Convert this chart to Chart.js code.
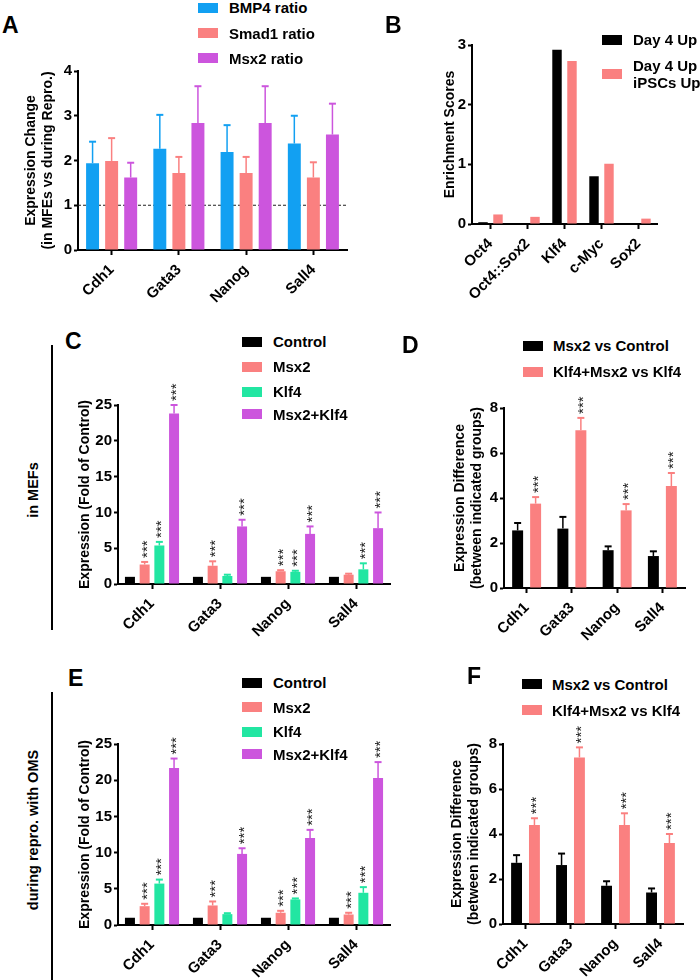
<!DOCTYPE html>
<html>
<head>
<meta charset="utf-8">
<title>Msx2 / Klf4 expression panels</title>
<script src="https://cdn.jsdelivr.net/npm/chart.js@4.4.1/dist/chart.umd.min.js"></script>
<style>
  html, body { margin: 0; padding: 0; background: #fff; }
  body { position: relative; width: 700px; height: 980px; overflow: hidden;
         font-family: "Liberation Sans", Arial, sans-serif; font-weight: bold; color: #000; }
  canvas { position: absolute; }
  .tag { position: absolute; font-size: 23px; line-height: 23px; }
  .leg { position: absolute; display: flex; align-items: center; font-size: 15px; line-height: 17px; white-space: pre; }
  .leg i { display: block; width: 20px; height: 10px; flex: none; }
  .side { position: absolute; font-size: 14.5px; white-space: nowrap; transform: translate(-50%, -50%) rotate(-90deg); }
  .rule { position: absolute; width: 2px; background: #000; }
</style>
</head>
<body>
<script>
const genes = ["Cdh1", "Gata3", "Nanog", "Sall4"];
const motifs = ["Oct4", "Oct4::Sox2", "Klf4", "c-Myc", "Sox2"];

// A - expression change (in MEFs vs during repro.)
const bmp4Ratio = [1.94, 2.26, 2.19, 2.38];
const bmp4RatioSem = [0.48, 0.76, 0.60, 0.62];
const smad1Ratio = [1.99, 1.72, 1.72, 1.62];
const smad1RatioSem = [0.51, 0.36, 0.36, 0.34];
const msx2Ratio = [1.62, 2.84, 2.84, 2.58];
const msx2RatioSem = [0.33, 0.82, 0.82, 0.69];

// B - enrichment scores
const day4Up = [0.03, 0, 2.92, 0.80, 0];
const day4iPSCsUp = [0.16, 0.12, 2.73, 1.01, 0.09];

// C - in MEFs, fold of control
const mefControl = [1, 1, 1, 1];
const mefMsx2 = [2.72, 2.55, 1.78, 1.30];
const mefMsx2Sem = [0.36, 0.62, 0.15, 0.14];
const mefKlf4 = [5.38, 1.12, 1.70, 2.05];
const mefKlf4Sem = [0.50, 0.18, 0.15, 0.84];
const mefBoth = [23.8, 8.04, 7.00, 7.80];
const mefBothSem = [1.20, 0.93, 1.04, 2.19];
const mefMsx2Stars = [1, 1, 1, 0];
const mefKlf4Stars = [1, 0, 1, 1];
const mefBothStars = [1, 1, 1, 1];

// D - in MEFs, difference between groups
const mefMsx2VsCtrl = [2.56, 2.64, 1.68, 1.42];
const mefMsx2VsCtrlSem = [0.33, 0.52, 0.17, 0.21];
const mefBothVsKlf4 = [3.75, 7.01, 3.45, 4.53];
const mefBothVsKlf4Sem = [0.29, 0.55, 0.28, 0.58];

// E - during repro. with OMS, fold of control
const repControl = [1, 1, 1, 1];
const repMsx2 = [2.60, 2.70, 1.69, 1.45];
const repMsx2Sem = [0.33, 0.55, 0.27, 0.24];
const repKlf4 = [5.72, 1.50, 3.53, 4.45];
const repKlf4Sem = [0.55, 0.13, 0.14, 0.78];
const repBoth = [21.7, 9.82, 12.0, 20.3];
const repBothSem = [1.29, 0.78, 1.14, 2.20];
const repMsx2Stars = [1, 1, 1, 1];
const repKlf4Stars = [1, 0, 1, 1];
const repBothStars = [1, 1, 1, 1];

// F - during repro., difference between groups
const repMsx2VsCtrl = [2.72, 2.62, 1.70, 1.40];
const repMsx2VsCtrlSem = [0.34, 0.51, 0.20, 0.18];
const repBothVsKlf4 = [4.40, 7.40, 4.40, 3.60];
const repBothVsKlf4Sem = [0.30, 0.45, 0.52, 0.40];
const allStars = [1, 1, 1, 1];

const BLACK = "#000000", SALMON = "#fa8080", BLUE = "#12a0f2", PURPLE = "#cc55dd", GREEN = "#22e6a2";
const FONT = '"Liberation Sans", Arial, sans-serif';

Chart.defaults.font.family = FONT;
Chart.defaults.color = "#000";

// error bars (upwards, Prism style) and the rotated *** marks
const errorBars = {
  id: "errorBars",
  afterDatasetsDraw(chart) {
    const ctx = chart.ctx;
    const y = chart.scales.y;
    chart.data.datasets.forEach((ds, di) => {
      const meta = chart.getDatasetMeta(di);
      meta.data.forEach((bar, i) => {
        let top = bar.y;
        if (ds.sem && ds.sem[i] > 0) {
          top = y.getPixelForValue(ds.data[i] + ds.sem[i]);
          ctx.save();
          ctx.strokeStyle = ds.backgroundColor;
          ctx.lineWidth = 1.5;
          ctx.beginPath();
          ctx.moveTo(bar.x, bar.y);
          ctx.lineTo(bar.x, top);
          ctx.stroke();
          ctx.lineWidth = 2;
          ctx.beginPath();
          ctx.moveTo(bar.x - 3.5, top);
          ctx.lineTo(bar.x + 3.5, top);
          ctx.stroke();
          ctx.restore();
        }
        if (ds.stars && ds.stars[i]) {
          ctx.save();
          ctx.font = "15px " + FONT;
          ctx.fillStyle = "#222";
          const m = ctx.measureText("***");
          const mid = (m.actualBoundingBoxAscent - m.actualBoundingBoxDescent) / 2;
          ctx.translate(bar.x, top - 4);
          ctx.rotate(-Math.PI / 2);
          ctx.textAlign = "left";
          ctx.textBaseline = "alphabetic";
          ctx.fillText("***", 0, mid);
          ctx.restore();
        }
      });
    });
  }
};
Chart.register(errorBars);

const dashedOne = {
  id: "dashedOne",
  beforeDatasetsDraw(chart) {
    const ctx = chart.ctx, a = chart.chartArea;
    const py = chart.scales.y.getPixelForValue(1);
    ctx.save();
    ctx.strokeStyle = "#222";
    ctx.lineWidth = 1.2;
    ctx.setLineDash([3, 2]);
    ctx.beginPath();
    ctx.moveTo(a.left, py);
    ctx.lineTo(a.right, py);
    ctx.stroke();
    ctx.restore();
  }
};

function makePanel(p) {
  const cv = document.createElement("canvas");
  cv.width = p.width;
  cv.height = p.height;
  cv.style.left = p.left + "px";
  cv.style.top = p.top + "px";
  document.body.appendChild(cv);
  const yW = p.axisLeft - p.left;
  const xH = p.top + p.height - p.axisBottom;
  return new Chart(cv, {
    type: "bar",
    data: { labels: p.labels, datasets: p.datasets },
    plugins: p.plugins || [],
    options: {
      responsive: false,
      animation: false,
      layout: { padding: { left: 0, top: p.axisTop - p.top, right: p.left + p.width - p.axisRight, bottom: 0 } },
      datasets: { bar: { categoryPercentage: p.cp, barPercentage: p.bp } },
      plugins: { legend: { display: false }, tooltip: { enabled: false } },
      scales: {
        x: {
          offset: true,
          grid: { display: true, drawOnChartArea: false, offset: false, tickLength: 5, tickWidth: 2, tickColor: "#000" },
          border: { display: true, color: "#000", width: 2 },
          ticks: { color: "#000", font: { size: 15, weight: "bold" }, minRotation: 45, maxRotation: 45, autoSkip: false, padding: 6 },
          afterFit(s) { s.height = xH; }
        },
        y: {
          min: p.yMin, max: p.yMax,
          grid: { drawOnChartArea: false, tickLength: 4, tickWidth: 2, tickColor: "#000" },
          border: { display: true, color: "#000", width: 2 },
          ticks: { stepSize: p.step, color: "#000", font: { size: 15, weight: "bold" }, padding: 2 },
          title: { display: true, text: p.title, color: "#000", padding: { top: 0, bottom: 0 },
                   font: { size: 14, weight: "bold", lineHeight: p.titleLH || 1.2 } },
          afterFit(s) { s.width = yW; }
        }
      }
    }
  });
}

function makeLegend(chart, boxLeft, textLeft, centres, rowH) {
  chart.data.datasets.forEach((ds, i) => {
    const row = document.createElement("div");
    row.className = "leg";
    const h = rowH[i] || 17;
    row.style.left = boxLeft + "px";
    row.style.top = (centres[i] - h / 2) + "px";
    const sw = document.createElement("i");
    sw.style.background = ds.backgroundColor;
    sw.style.marginRight = (textLeft - boxLeft - 20) + "px";
    const tx = document.createElement("span");
    tx.textContent = ds.label;
    row.appendChild(sw);
    row.appendChild(tx);
    document.body.appendChild(row);
  });
}

function tag(text, left, capTop) {
  const d = document.createElement("div");
  d.className = "tag";
  d.textContent = text;
  d.style.left = left + "px";
  d.style.top = (capTop - 3) + "px";
  document.body.appendChild(d);
}

function side(text, cx, cy) {
  const d = document.createElement("div");
  d.className = "side";
  d.textContent = text;
  d.style.left = cx + "px";
  d.style.top = cy + "px";
  document.body.appendChild(d);
}

function rule(x, y1, y2) {
  const d = document.createElement("div");
  d.className = "rule";
  d.style.left = (x - 1) + "px";
  d.style.top = y1 + "px";
  d.style.height = (y2 - y1) + "px";
  document.body.appendChild(d);
}

// ---- A ----
const chartA = makePanel({
  left: 23, top: 60, width: 340, height: 250,
  axisLeft: 78, axisTop: 71, axisBottom: 250, axisRight: 347,
  labels: genes, yMin: 0, yMax: 4, step: 1, cp: 0.85, bp: 0.68,
  title: ["Expression Change", "(in MFEs vs during Repro.)"],
  plugins: [dashedOne],
  datasets: [
    { label: "BMP4 ratio", data: bmp4Ratio, sem: bmp4RatioSem, backgroundColor: BLUE },
    { label: "Smad1 ratio", data: smad1Ratio, sem: smad1RatioSem, backgroundColor: SALMON },
    { label: "Msx2 ratio", data: msx2Ratio, sem: msx2RatioSem, backgroundColor: PURPLE }
  ]
});
makeLegend(chartA, 198, 229, [7.5, 33, 58], []);

// ---- B ----
const chartB = makePanel({
  left: 442, top: 34, width: 225, height: 276,
  axisLeft: 472, axisTop: 44, axisBottom: 224, axisRight: 657,
  labels: motifs, yMin: 0, yMax: 3, step: 1, cp: 0.81, bp: 0.63,
  title: "Enrichment Scores",
  datasets: [
    { label: "Day 4 Up", data: day4Up, backgroundColor: BLACK },
    { label: "Day 4 Up\niPSCs Up", data: day4iPSCsUp, backgroundColor: SALMON }
  ]
});
makeLegend(chartB, 602, 633, [39.5, 73.5], [17, 34]);

// ---- C ----
const chartC = makePanel({
  left: 77, top: 365, width: 323, height: 285,
  axisLeft: 118, axisTop: 405, axisBottom: 584, axisRight: 390,
  labels: genes, yMin: 0, yMax: 25, step: 5, cp: 0.865, bp: 0.68,
  title: "Expression (Fold of Control)",
  datasets: [
    { label: "Control", data: mefControl, backgroundColor: BLACK },
    { label: "Msx2", data: mefMsx2, sem: mefMsx2Sem, stars: mefMsx2Stars, backgroundColor: SALMON },
    { label: "Klf4", data: mefKlf4, sem: mefKlf4Sem, stars: mefKlf4Stars, backgroundColor: GREEN },
    { label: "Msx2+Klf4", data: mefBoth, sem: mefBothSem, stars: mefBothStars, backgroundColor: PURPLE }
  ]
});
makeLegend(chartC, 242, 273, [341.7, 366.7, 391.7, 414], []);

// ---- D ----
const chartD = makePanel({
  left: 451, top: 375, width: 244, height: 275,
  axisLeft: 504, axisTop: 408, axisBottom: 588, axisRight: 685,
  labels: genes, yMin: 0, yMax: 8, step: 2, cp: 0.795, bp: 0.61,
  title: ["Expression Difference", "(between indicated groups)"], titleLH: 1.25,
  datasets: [
    { label: "Msx2 vs Control", data: mefMsx2VsCtrl, sem: mefMsx2VsCtrlSem, backgroundColor: BLACK },
    { label: "Klf4+Msx2 vs Klf4", data: mefBothVsKlf4, sem: mefBothVsKlf4Sem, stars: allStars, backgroundColor: SALMON }
  ]
});
makeLegend(chartD, 523, 553, [345.7, 371.7], []);

// ---- E ----
const chartE = makePanel({
  left: 77, top: 710, width: 323, height: 270,
  axisLeft: 118, axisTop: 744, axisBottom: 925, axisRight: 390,
  labels: genes, yMin: 0, yMax: 25, step: 5, cp: 0.865, bp: 0.68,
  title: "Expression (Fold of Control)",
  datasets: [
    { label: "Control", data: repControl, backgroundColor: BLACK },
    { label: "Msx2", data: repMsx2, sem: repMsx2Sem, stars: repMsx2Stars, backgroundColor: SALMON },
    { label: "Klf4", data: repKlf4, sem: repKlf4Sem, stars: repKlf4Stars, backgroundColor: GREEN },
    { label: "Msx2+Klf4", data: repBoth, sem: repBothSem, stars: repBothStars, backgroundColor: PURPLE }
  ]
});
makeLegend(chartE, 242, 273, [682.7, 707.3, 731.7, 754.3], []);

// ---- F ----
const chartF = makePanel({
  left: 448, top: 710, width: 245, height: 270,
  axisLeft: 503, axisTop: 744, axisBottom: 924, axisRight: 683,
  labels: genes, yMin: 0, yMax: 8, step: 2, cp: 0.795, bp: 0.61,
  title: ["Expression Difference", "(between indicated groups)"], titleLH: 1.25,
  datasets: [
    { label: "Msx2 vs Control", data: repMsx2VsCtrl, sem: repMsx2VsCtrlSem, backgroundColor: BLACK },
    { label: "Klf4+Msx2 vs Klf4", data: repBothVsKlf4, sem: repBothVsKlf4Sem, stars: allStars, backgroundColor: SALMON }
  ]
});
makeLegend(chartF, 522, 552, [684, 710], []);

// panel letters, side labels, brackets
tag("A", 2, 17);
tag("B", 385, 17);
tag("C", 65, 333);
tag("D", 402, 337);
tag("E", 68, 670);
tag("F", 467, 668);
side("in MEFs", 33, 490);
side("during repro. with OMS", 33, 830);
rule(52, 345, 630);
rule(52, 692, 980);
</script>
</body>
</html>
